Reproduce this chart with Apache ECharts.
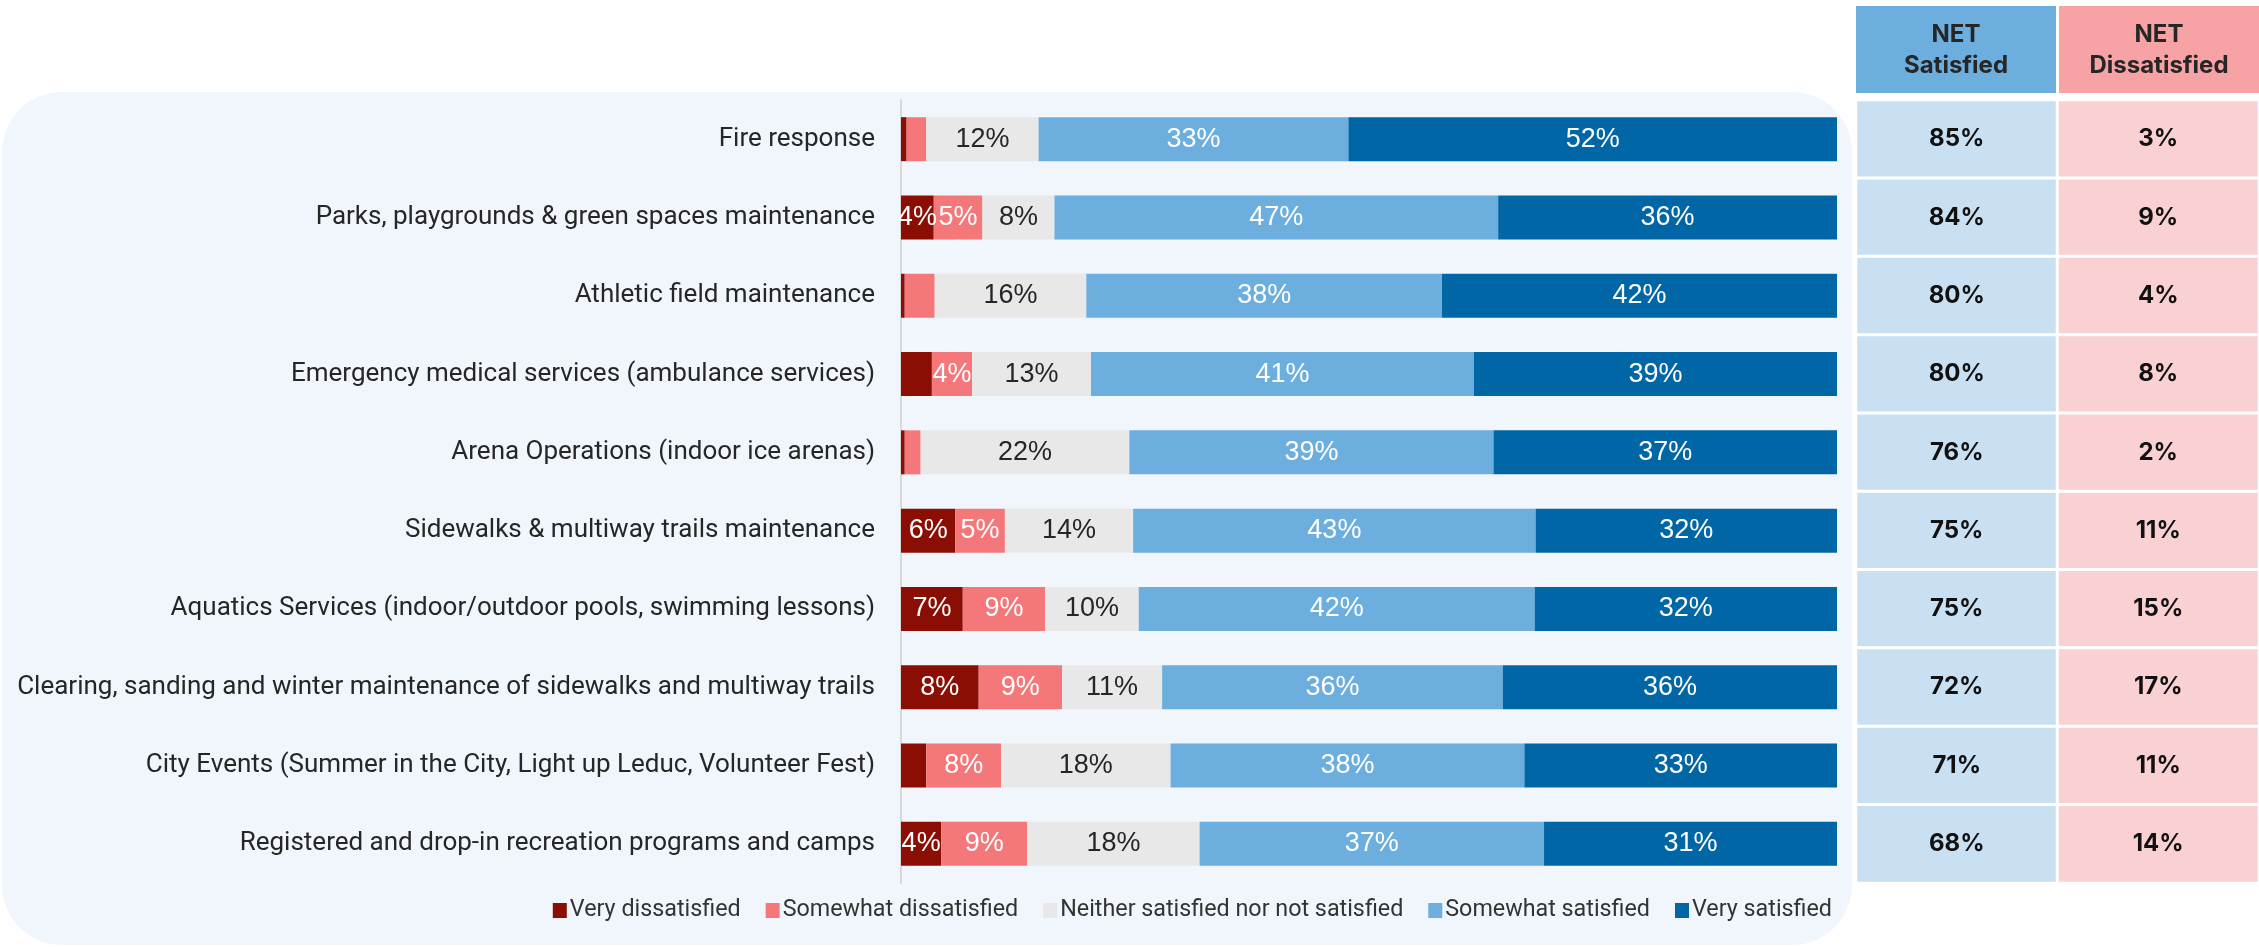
<!DOCTYPE html>
<html>
<head>
<meta charset="utf-8">
<style>
  html, body { margin: 0; padding: 0; background: #ffffff; }
  #chart { width: 2259px; height: 947px; }
</style>
<script src="https://cdn.jsdelivr.net/npm/echarts@6/dist/echarts.min.js"></script>
</head>
<body>
<div id="chart"></div>
<script>
// Satisfaction with city services (% of respondents)
const categories = [
  'Fire response',
  'Parks, playgrounds & green spaces maintenance',
  'Athletic field maintenance',
  'Emergency medical services (ambulance services)',
  'Arena Operations (indoor ice arenas)',
  'Sidewalks & multiway trails maintenance',
  'Aquatics Services (indoor/outdoor pools, swimming lessons)',
  'Clearing, sanding and winter maintenance of sidewalks and multiway trails',
  'City Events (Summer in the City, Light up Leduc, Volunteer Fest)',
  'Registered and drop-in recreation programs and camps'
];
const seriesNames = [
  'Very dissatisfied',
  'Somewhat dissatisfied',
  'Neither satisfied nor not satisfied',
  'Somewhat satisfied',
  'Very satisfied'
];
const veryDissatisfied     = [0.6, 3.5, 0.4, 3.3, 0.4, 5.8, 6.6, 8.3, 2.7, 4.3];
const somewhatDissatisfied = [2.1, 5.2, 3.2, 4.3, 1.7, 5.3, 8.8, 8.9, 8.0, 9.2];
const neutral              = [12.0, 7.7, 16.2, 12.7, 22.3, 13.7, 10.0, 10.7, 18.1, 18.4];
const somewhatSatisfied    = [33.1, 47.4, 38.0, 40.9, 38.9, 43.0, 42.3, 36.4, 37.8, 36.8];
const verySatisfied        = [52.2, 36.2, 42.2, 38.8, 36.7, 32.2, 32.3, 35.7, 33.4, 31.3];

const netSatisfied    = [85, 84, 80, 80, 76, 75, 75, 72, 71, 68];
const netDissatisfied = [3, 9, 4, 8, 2, 11, 15, 17, 11, 14];
const netColumns = ['NET\nSatisfied', 'NET\nDissatisfied'];

const segmentColors = ['#8B0E04', '#F4777A', '#E8E8E8', '#6CAEDE', '#0066A5'];
const labelColors   = ['#ffffff', '#ffffff', '#262626', '#ffffff', '#ffffff'];
const cellColors    = ['#C9E0F2', '#F9D1D3'];
const headerColors  = ['#6CAEDE', '#F7A2A5'];

const W = 2259, H = 947;
const gridTop = 100, gridBottom = 64;
const tableLeft = 1856, tableRight = 0;
const colW = (W - tableLeft - tableRight) / 2;

const valueLists = [veryDissatisfied, somewhatDissatisfied, neutral, somewhatSatisfied, verySatisfied];

const barSeries = valueLists.map((vals, i) => ({
  name: seriesNames[i],
  type: 'bar',
  stack: 'total',
  xAxisIndex: 0,
  yAxisIndex: 0,
  barWidth: 44,
  itemStyle: { color: segmentColors[i] },
  label: {
    show: true,
    position: 'inside',
    color: labelColors[i],
    fontFamily: 'Liberation Sans, Arial, sans-serif',
    fontSize: 27,
    formatter: p => (p.value >= 3.5 ? Math.round(p.value) + '%' : '')
  },
  emphasis: { disabled: true },
  data: vals
}));

const tableData = [];
categories.forEach((c, r) => {
  tableData.push({ value: [0, r, netSatisfied[r]], itemStyle: { color: cellColors[0] } });
  tableData.push({ value: [1, r, netDissatisfied[r]], itemStyle: { color: cellColors[1] } });
});

// Column headers above the NET table
const headerGraphics = [];
netColumns.forEach((t, i) => {
  const x0 = tableLeft + i * colW + (i === 0 ? 0 : 1.5);
  headerGraphics.push({
    type: 'rect',
    shape: { x: x0, y: 6, width: colW - 1.5, height: 87 },
    style: { fill: headerColors[i] },
    z: 1
  });
  headerGraphics.push({
    type: 'text',
    x: x0 + (colW - 1.5) / 2,
    y: 50,
    style: {
      text: t,
      fill: '#262626',
      font: 'bold 24px Inter, Roboto, sans-serif',
      lineHeight: 31,
      align: 'center',
      verticalAlign: 'middle'
    },
    z: 2
  });
});

const chart = echarts.init(document.getElementById('chart'), null, { renderer: 'canvas' });
chart.setOption({
  backgroundColor: '#ffffff',
  animation: false,
  graphic: [
    {
      type: 'rect',
      shape: { x: 2, y: 92, width: 1850, height: 853, r: 60 },
      style: { fill: '#F1F6FD' },
      z: -10
    },
    ...headerGraphics
  ],
  legend: {
    data: seriesNames,
    right: 422,
    top: 894,
    icon: 'rect',
    itemWidth: 14,
    itemHeight: 15,
    itemGap: 25,
    textStyle: { fontFamily: 'Roboto, sans-serif', fontSize: 23.3, color: '#333333', padding: [0, 0, 0, -2] },
    selectedMode: false
  },
  grid: [
    { left: 901, right: W - 1837, top: gridTop, bottom: gridBottom },
    { left: tableLeft, right: tableRight, top: gridTop, bottom: gridBottom }
  ],
  xAxis: [
    { type: 'value', gridIndex: 0, min: 0, max: 100, show: false },
    { type: 'category', gridIndex: 1, data: netColumns, show: false }
  ],
  yAxis: [
    {
      type: 'category',
      gridIndex: 0,
      inverse: true,
      data: categories,
      axisLine: { show: true, lineStyle: { color: '#D9D9D9', width: 2 } },
      axisTick: { show: false },
      axisLabel: {
        margin: 26,
        fontFamily: 'Roboto, sans-serif',
        fontSize: 26,
        color: '#262626'
      }
    },
    { type: 'category', gridIndex: 1, inverse: true, data: categories, show: false }
  ],
  series: [
    ...barSeries,
    {
      type: 'heatmap',
      xAxisIndex: 1,
      yAxisIndex: 1,
      data: tableData,
      itemStyle: { borderColor: '#ffffff', borderWidth: 3 },
      label: {
        show: true,
        formatter: p => p.value[2] + '%',
        fontFamily: 'Inter, Roboto, sans-serif',
        fontWeight: 'bold',
        fontSize: 24,
        color: '#111111'
      },
      emphasis: { disabled: true }
    }
  ]
});
</script>
</body>
</html>
